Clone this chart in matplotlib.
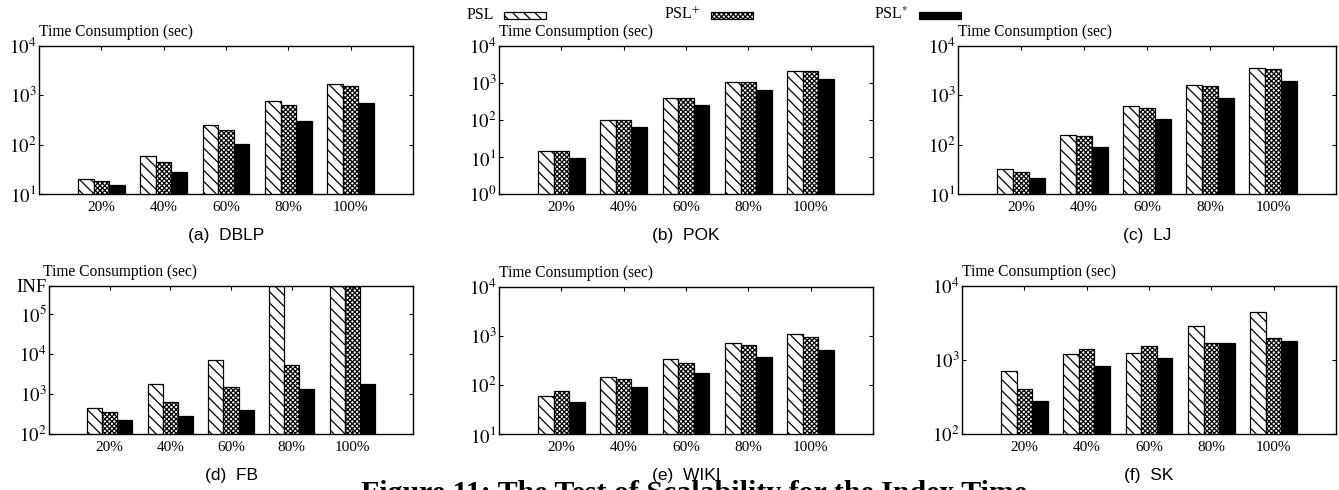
import numpy as np
import matplotlib
matplotlib.use('Agg')
import matplotlib.pyplot as plt
from matplotlib.patches import Rectangle
from matplotlib.ticker import NullLocator

plt.rcParams['font.family'] = ['Liberation Serif', 'DejaVu Serif']
plt.rcParams['mathtext.fontset'] = 'stix'
plt.rcParams['hatch.linewidth'] = 0.9

categories = ['20%', '40%', '60%', '80%', '100%']
series = ['PSL', 'PSL$^{+}$', 'PSL$^{*}$']
INF = 10 ** 5.685  # "INF" level on the FB panel

dblp_psl = [20, 59, 246, 755, 1723]
dblp_plus = [18, 44, 200, 627, 1515]
dblp_star = [15, 28, 104, 297, 700]

pok_psl = [14.2, 102, 385, 1087, 2110]
pok_plus = [14.5, 102, 385, 1087, 2150]
pok_star = [9.6, 65, 249, 661, 1310]

lj_psl = [31.6, 157, 608, 1644, 3580]
lj_plus = [28.4, 147, 554, 1570, 3420]
lj_star = [21, 91, 331, 883, 1980]

fb_psl = [453, 1790, 6820, INF, INF]
fb_plus = [353, 626, 1480, 5220, INF]
fb_star = [227, 281, 403, 1295, 1790]

wiki_psl = [61, 143, 332, 736, 1088]
wiki_plus = [77, 130, 284, 650, 946]
wiki_star = [45, 90.6, 177, 376, 514]

sk_psl = [714, 1211, 1262, 2859, 4508]
sk_plus = [400, 1429, 1537, 1722, 1969]
sk_star = [279, 826, 1059, 1703, 1794]

captions = ['(a)  DBLP', '(b)  POK', '(c)  LJ', '(d)  FB', '(e)  WIKI', '(f)  SK']
ylabel = 'Time Consumption (sec)'
fig_caption = 'Figure 11: The Test of Scalability for the Index Time'

panels = [
    (dblp_psl, dblp_plus, dblp_star, (1, 4)),
    (pok_psl, pok_plus, pok_star, (0, 4)),
    (lj_psl, lj_plus, lj_star, (1, 4)),
    (fb_psl, fb_plus, fb_star, (2, 5)),
    (wiki_psl, wiki_plus, wiki_star, (1, 4)),
    (sk_psl, sk_plus, sk_star, (2, 4)),
]

W, H = 1339, 490
# axes boxes in pixels: left, top, right, bottom
boxes = [
    (39, 46, 413, 194), (499, 46, 873, 194), (958, 46, 1336, 194),
    (49, 286, 413, 434), (499, 287, 873, 434), (962, 286, 1336, 434),
]

styles = [
    dict(facecolor='white', hatch='\\\\\\'),
    dict(facecolor='white', hatch='xxxxxxx'),
    dict(facecolor='black', hatch=None),
]

fig = plt.figure(figsize=(W / 100, H / 100), dpi=100)

x = np.arange(len(categories))
bw = 0.25
for k, (data_a, data_b, data_c, (ylo, yhi)) in enumerate(panels):
    l, t, r, b = boxes[k]
    ax = fig.add_axes([l / W, (H - b) / H, (r - l) / W, (b - t) / H])
    for j, vals in enumerate((data_a, data_b, data_c)):
        ax.bar(x + (j - 1) * bw, vals, width=bw,
               edgecolor='black', linewidth=0.9, **styles[j])
    ax.set_yscale('log')
    ax.set_xlim(-1, 5)
    if k == 3:
        ax.set_ylim(10 ** ylo, INF)
        ticks = [10 ** e for e in range(ylo, yhi + 1)] + [INF]
        labels = [rf'$10^{{{e}}}$' for e in range(ylo, yhi + 1)] + ['INF']
    else:
        ax.set_ylim(10 ** ylo, 10 ** yhi)
        ticks = [10 ** e for e in range(ylo, yhi + 1)]
        labels = [rf'$10^{{{e}}}$' for e in range(ylo, yhi + 1)]
    ax.set_yticks(ticks)
    ax.set_yticklabels(labels)
    ax.yaxis.set_minor_locator(NullLocator())
    ax.set_xticks(x)
    ax.set_xticklabels(categories)
    ax.tick_params(direction='in', top=True, right=True, length=3,
                   width=0.8, labelsize=11)
    ax.tick_params(axis='y', pad=2, labelsize=13.5)
    ax.tick_params(axis='x', pad=5)
    for s in ax.spines.values():
        s.set_linewidth(1.0)
    ax.annotate(ylabel, xy=(0, 1), xycoords='axes fraction',
                xytext=(-4 if k == 3 else 0, 10), textcoords='offset points',
                ha='left', va='center', fontsize=11.2)
    cy = 235 if k < 3 else 475
    fig.text(((l + r) / 2) / W, (H - cy) / H, captions[k],
             ha='center', va='center', fontsize=12.5,
             family=['Liberation Sans', 'DejaVu Sans'])

# legend across the top
leg_boxes = [504, 711, 919]
for j, lx in enumerate(leg_boxes):
    fig.patches.append(Rectangle((lx / W, (H - 19) / H), 42 / W, 7 / H,
                                 transform=fig.transFigure, edgecolor='black',
                                 linewidth=0.9, **styles[j]))
    fig.text((lx - 10) / W, (H - 15) / H, series[j], ha='right', va='center',
             fontsize=11.5)

fig.text(694 / W, (H - 480) / H, fig_caption,
         ha='center', va='top', fontsize=21.5, fontweight='bold')

fig.savefig('out.png', dpi=100)
